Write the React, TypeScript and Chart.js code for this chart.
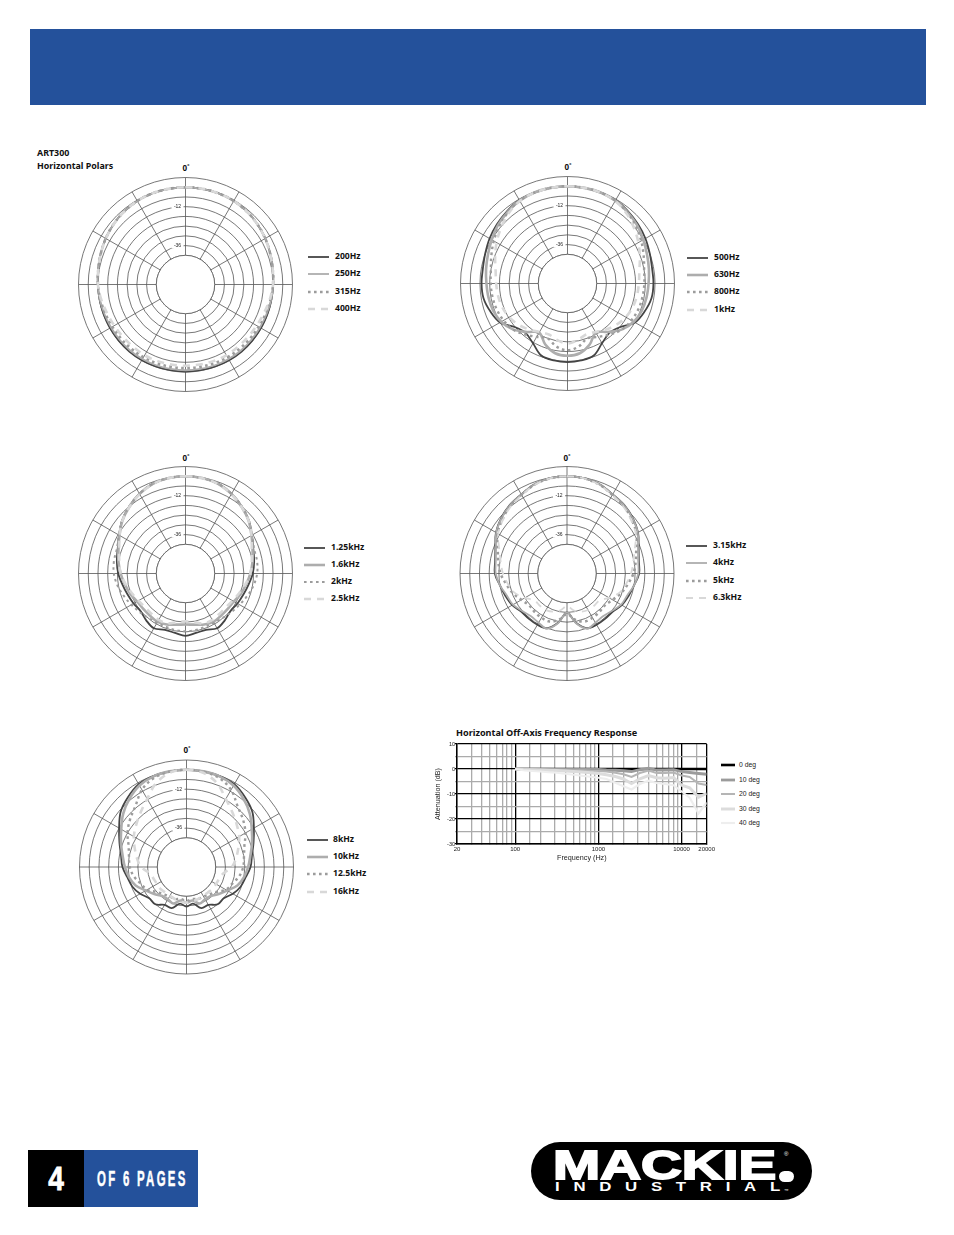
import React, { useEffect, useRef } from "react";
import { Chart, registerables } from "chart.js";

Chart.register(...registerables);

const angleLabels = ["0","10","20","30","40","50","60","70","80","90","100","110","120","130","140","150","160","170","180","190","200","210","220","230","240","250","260","270","280","290","300","310","320","330","340","350"];

// Polar 1
const hz200 = [0,-0.1,-0.2,-0.5,-1.2,-2.1,-3.2,-4.3,-5.3,-5.9,-6.2,-6.3,-6.3,-6.2,-6.1,-6.1,-6.2,-6.3,-6.3,-6.3,-6.2,-6.1,-6.1,-6.2,-6.3,-6.3,-6.2,-5.9,-5.3,-4.3,-3.2,-2.1,-1.2,-0.5,-0.2,-0.1];
const hz250 = [0,-0.1,-0.2,-0.5,-1.2,-2.1,-3.2,-4.3,-5.3,-5.9,-6.3,-6.8,-7,-7,-6.9,-6.9,-7,-7.1,-7.1,-7.1,-7,-6.9,-6.9,-7,-7,-6.8,-6.3,-5.9,-5.3,-4.3,-3.2,-2.1,-1.2,-0.5,-0.2,-0.1];
const hz315 = [0,-0.1,-0.2,-0.5,-1.2,-2.1,-3.2,-4.4,-5.4,-6,-6.7,-7.4,-7.9,-8.1,-8.2,-8.2,-8.3,-8.4,-8.4,-8.4,-8.3,-8.2,-8.2,-8.1,-7.9,-7.4,-6.7,-6,-5.4,-4.4,-3.2,-2.1,-1.2,-0.5,-0.2,-0.1];
const hz400 = [0,-0.1,-0.2,-0.5,-1.3,-2.2,-3.3,-4.4,-5.4,-6,-7.2,-8.5,-9.3,-9.7,-9.8,-9.6,-9.7,-9.9,-9.9,-9.9,-9.7,-9.6,-9.8,-9.7,-9.3,-8.5,-7.2,-6,-5.4,-4.4,-3.3,-2.2,-1.3,-0.5,-0.2,-0.1];

// Polar 2
const hz500 = [0,-0.1,-0.3,-0.6,-1.9,-3.2,-4.5,-6,-7,-7,-7.4,-9.4,-12,-18,-20,-17.4,-12.7,-11.8,-11.5,-11.8,-12.7,-17.4,-20,-18,-12,-9.4,-7.4,-7,-7,-6,-4.5,-3.2,-1.9,-0.6,-0.3,-0.1];
const hz630 = [0,-0.1,-0.3,-1,-2.5,-4,-6,-7.8,-9,-10,-10.5,-11.2,-12.8,-16,-21,-25,-20,-16.3,-15.4,-16.3,-20,-25,-21,-16,-12.8,-11.2,-10.5,-10,-9,-7.8,-6,-4,-2.5,-1,-0.3,-0.1];
const hz800 = [0,-0.1,-0.3,-1,-2.8,-5,-7.5,-10,-12,-12.6,-13,-13.5,-14.5,-16,-19,-22,-24,-20.5,-18.8,-20.5,-24,-22,-19,-16,-14.5,-13.5,-13,-12.6,-12,-10,-7.5,-5,-2.8,-1,-0.3,-0.1];
const khz1 = [0,-0.1,-0.4,-1.2,-3.5,-6.5,-9.5,-12.5,-15,-16,-16.5,-17.2,-18.5,-20.5,-23,-25.5,-26.5,-24.5,-23,-24.5,-26.5,-25.5,-23,-20.5,-18.5,-17.2,-16.5,-16,-15,-12.5,-9.5,-6.5,-3.5,-1.2,-0.4,-0.1];

// Polar 3
const khz125 = [0,-0.2,-1,-3.2,-6,-9,-12.7,-15.5,-17,-18.5,-20.5,-22,-23,-23.8,-22.3,-21,-23,-22.8,-21.5,-22.8,-23,-21,-22.3,-23.8,-23,-22,-20.5,-18.5,-17,-15.5,-12.7,-9,-6,-3.2,-1,-0.2];
const khz16 = [0,-0.2,-1.1,-3.3,-6.2,-9.2,-13,-16,-18,-20,-22,-23.6,-25.5,-26,-26,-25.5,-26.5,-28,-28.5,-28,-26.5,-25.5,-26,-26,-25.5,-23.6,-22,-20,-18,-16,-13,-9.2,-6.2,-3.3,-1.1,-0.2];
const khz2 = [0,-0.2,-1,-3.2,-6,-9,-12.5,-15,-15.2,-15.8,-17.4,-19.5,-21.5,-23,-24.3,-24.8,-25,-24.6,-24.4,-24.6,-25,-24.8,-24.3,-23,-21.5,-19.5,-17.4,-15.8,-15.2,-15,-12.5,-9,-6,-3.2,-1,-0.2];
const khz25 = [0,-0.3,-1.3,-3.5,-6.3,-9.2,-13,-16.5,-18.5,-20,-22.5,-24.7,-26.5,-27.5,-27.5,-27,-27.3,-29.5,-30.5,-29.5,-27.3,-27,-27.5,-27.5,-26.5,-24.7,-22.5,-20,-18.5,-16.5,-13,-9.2,-6.3,-3.5,-1.3,-0.3];

// Polar 4
const khz315 = [0,-0.3,-1.4,-3.7,-5,-7,-9.4,-13,-15,-15.5,-18,-19.6,-21,-23.3,-23.5,-23.5,-24,-29.3,-36,-29.3,-24,-23.5,-23.5,-23.3,-21,-19.6,-18,-15.5,-15,-13,-9.4,-7,-5,-3.7,-1.4,-0.3];
const khz4 = [0,-0.3,-1.5,-3.8,-5.2,-7.2,-9.6,-13.4,-15.4,-16,-18,-20.5,-21.5,-24,-25.5,-25,-23.8,-29,-36,-29,-23.8,-25,-25.5,-24,-21.5,-20.5,-18,-16,-15.4,-13.4,-9.6,-7.2,-5.2,-3.8,-1.5,-0.3];
const khz5 = [0,-0.4,-1.6,-4,-5.5,-8,-10.5,-14.5,-17,-19,-22,-24.5,-27.5,-29.5,-29,-28.5,-28.5,-31,-35,-31,-28.5,-28.5,-29,-29.5,-27.5,-24.5,-22,-19,-17,-14.5,-10.5,-8,-5.5,-4,-1.6,-0.4];
const khz63 = [0,-0.4,-1.8,-4.2,-6,-8.5,-11,-15.5,-18.5,-20.5,-23,-25.5,-30,-34,-34,-34,-35,-37,-40,-37,-35,-34,-34,-34,-30,-25.5,-23,-20.5,-18.5,-15.5,-11,-8.5,-6,-4.2,-1.8,-0.4];

// Polar 5
const khz8 = [0,-0.1,-0.3,-1,-3.8,-7,-12,-16,-19,-20.5,-23,-24.5,-27,-30,-30,-33,-33,-37,-35.6,-37,-33,-33,-30,-30,-27,-24.5,-23,-20.5,-19,-16,-12,-7,-3.8,-1,-0.3,-0.1];
const khz10 = [0,-0.1,-0.5,-2,-5.2,-9,-13.5,-17,-20,-22,-24,-26.6,-31,-34,-36.7,-37,-36,-39,-38,-39,-36,-37,-36.7,-34,-31,-26.6,-24,-22,-20,-17,-13.5,-9,-5.2,-2,-0.5,-0.1];
const khz125b = [0,-0.3,-1.5,-5,-11,-14.5,-18,-22,-24,-25,-27,-30,-32,-36,-38,-39,-39,-40,-39,-40,-39,-39,-38,-36,-32,-30,-27,-25,-24,-22,-18,-14.5,-11,-5,-1.5,-0.3];
const khz16b = [0,-1,-5,-11.5,-16,-19.5,-22.5,-26,-29,-32,-37,-38.5,-39,-39,-39.5,-39.5,-39,-38.5,-38,-38.5,-39,-39.5,-39.5,-39,-39,-38.5,-37,-32,-29,-26,-22.5,-19.5,-16,-11.5,-5,-1];

// Off-axis response
const frequencies = [100,125,160,200,250,315,400,500,630,800,1000,1250,1600,2000,2500,3150,4000,5000,6300,8000,10000,12500,16000,20000];
const deg0 = [0,0,0,0,0,0,0,0,0,0,0,0,0,0,0,0,0,0,0,0,0,0,0,0];
const deg10 = [0,-0.1,-0.1,-0.1,-0.1,-0.2,-0.2,-0.2,-0.2,-0.2,-0.2,-0.4,-0.5,-0.7,-1,-0.3,0.3,-0.4,-0.4,-0.3,-1,-1.4,-1.8,-2.1];
const deg20 = [0,-0.1,-0.2,-0.2,-0.3,-0.3,-0.4,-0.5,-0.5,-0.7,-0.8,-1,-1.5,-2.1,-3.2,-1.6,-0.6,-1.6,-1.6,-1.4,-2.6,-3.2,-5.8,-6.4];
const deg30 = [0,-0.2,-0.3,-0.4,-0.5,-0.6,-0.8,-1,-1.2,-1.5,-1.8,-2.3,-3,-4,-5.8,-3.9,-2.6,-3.5,-3.7,-3.4,-6.5,-7.5,-11.3,-9.7];
const deg40 = [0,-0.5,-0.8,-1,-1.3,-1.5,-1.9,-2.3,-2.7,-3.1,-3.5,-4,-5.5,-6.9,-8.2,-6,-4.7,-5.6,-6,-6.5,-9,-11.5,-17.8,-13.4];
const freqTickLabels = [20,100,1000,10000,20000];
const dbTickLabels = [10,0,-10,-20,-30];
const polarTickLabels = [-12,-36];

const DARK = "#444444", MID = "#adadad", DOT = "#9c9c9c", LIGHT = "#d8d8d8";
const DOTS = [2.6, 3.4], DASH = [7, 6];
const TEXT_FONT = '"Noto Sans", sans-serif';

const polars = [
  { cx: 185, cy: 284, nudgeX: 0.5, nudgeY: 0.5, zx: 186, zy: 168, lx: 308, tx: 335, ly: [257, 274, 292, 309], series: [
    { label: "200Hz", data: hz200, color: DARK, width: 1.8, dash: [] },
    { label: "250Hz", data: hz250, color: MID, width: 1.8, dash: [] },
    { label: "315Hz", data: hz315, color: DOT, width: 2.6, dash: DOTS },
    { label: "400Hz", data: hz400, color: LIGHT, width: 2.6, dash: DASH } ] },
  { cx: 567, cy: 283, nudgeX: 0.5, nudgeY: 0.5, zx: 568, zy: 167, lx: 687, tx: 714, ly: [258, 275, 292, 310], series: [
    { label: "500Hz", data: hz500, color: DARK, width: 1.8, dash: [] },
    { label: "630Hz", data: hz630, color: MID, width: 2.6, dash: [] },
    { label: "800Hz", data: hz800, color: DOT, width: 2.4, dash: DOTS },
    { label: "1kHz", data: khz1, color: LIGHT, width: 2.6, dash: DASH } ] },
  { cx: 185, cy: 573, nudgeX: 0.5, nudgeY: 0.5, zx: 186, zy: 458, lx: 304, tx: 331, ly: [548, 565, 582, 599], series: [
    { label: "1.25kHz", data: khz125, color: DARK, width: 1.8, dash: [] },
    { label: "1.6kHz", data: khz16, color: MID, width: 2.6, dash: [] },
    { label: "2kHz", data: khz2, color: DOT, width: 2, dash: DOTS },
    { label: "2.5kHz", data: khz25, color: LIGHT, width: 2.6, dash: DASH } ] },
  { cx: 567, cy: 573, nudgeX: 0, nudgeY: 0.5, zx: 567, zy: 458, lx: 686, tx: 713, ly: [546, 563, 581, 598], series: [
    { label: "3.15kHz", data: khz315, color: DARK, width: 1.8, dash: [] },
    { label: "4kHz", data: khz4, color: MID, width: 1.8, dash: [] },
    { label: "5kHz", data: khz5, color: DOT, width: 2.6, dash: DOTS },
    { label: "6.3kHz", data: khz63, color: LIGHT, width: 1.8, dash: DASH } ] },
  { cx: 186, cy: 867, nudgeX: 0.5, nudgeY: 0, zx: 187, zy: 750, lx: 307, tx: 333, ly: [840, 857, 874, 892], series: [
    { label: "8kHz", data: khz8, color: DARK, width: 1.8, dash: [] },
    { label: "10kHz", data: khz10, color: MID, width: 2.6, dash: [] },
    { label: "12.5kHz", data: khz125b, color: DOT, width: 2.4, dash: DOTS },
    { label: "16kHz", data: khz16b, color: LIGHT, width: 2.6, dash: DASH } ] },
];

const responseSeries = [
  { label: "0 deg", data: deg0, color: "#000000", width: 2.6, y: 765 },
  { label: "10 deg", data: deg10, color: "#9b9b9b", width: 2.8, y: 780 },
  { label: "20 deg", data: deg20, color: "#b5b5b5", width: 2, y: 794 },
  { label: "30 deg", data: deg30, color: "#dcdcdc", width: 3, y: 809 },
  { label: "40 deg", data: deg40, color: "#eeeeee", width: 2.2, y: 823 },
];

const RING = "#555555";
const RING_WIDTH = 0.8;
const holePlugin = {
  id: "hole",
  beforeDraw(chart: any, _a: any, opts: any) {
    chart.ctx.save();
    chart.ctx.translate(opts.nudgeX, opts.nudgeY);
  },
  afterDraw(chart: any) {
    chart.ctx.restore();
  },
  beforeDatasetsDraw(chart: any) {
    const s = chart.scales.r;
    const ctx = chart.ctx;
    ctx.save();
    ctx.beginPath();
    ctx.arc(s.xCenter, s.yCenter, s.getDistanceFromCenterForValue(-42), 0, Math.PI * 2);
    ctx.fillStyle = "#ffffff";
    ctx.fill();
    ctx.strokeStyle = RING;
    ctx.lineWidth = RING_WIDTH;
    ctx.stroke();
    ctx.font = '5px "Liberation Sans"';
    ctx.textAlign = "center";
    ctx.textBaseline = "middle";
    polarTickLabels.forEach((v) => {
      const y = s.yCenter - s.getDistanceFromCenterForValue(v);
      ctx.fillStyle = "#ffffff";
      ctx.fillRect(s.xCenter - 14, y - 3, 12, 6);
      ctx.fillStyle = "#222222";
      ctx.fillText(String(v), s.xCenter - 8, y);
    });
    ctx.restore();
  },
};

function Polar({ p }: { p: (typeof polars)[number] }) {
  const ref = useRef<HTMLCanvasElement>(null);
  useEffect(() => {
    const chart = new Chart(ref.current!, {
      type: "radar",
      data: {
        labels: angleLabels,
        datasets: p.series.map((s, i) => ({
          label: s.label,
          data: s.data,
          borderColor: s.color,
          borderWidth: s.width,
          borderDash: s.dash,
          fill: false,
          pointRadius: 0,
          tension: 0.35,
          order: p.series.length - i,
        })),
      },
      options: {
        responsive: false,
        animation: false,
        layout: { padding: 2 },
        plugins: { legend: { display: false }, tooltip: { enabled: false }, hole: { nudgeX: p.nudgeX, nudgeY: p.nudgeY } },
        scales: {
          r: {
            min: -60,
            max: 6,
            ticks: { stepSize: 6, display: false },
            pointLabels: { display: false },
            grid: {
              circular: true,
              lineWidth: RING_WIDTH,
              color: (c: any) => (c.tick.value < -42 ? "rgba(0,0,0,0)" : RING),
            },
            angleLines: {
              lineWidth: RING_WIDTH,
              color: (c: any) => (c.index % 3 === 0 ? RING : "rgba(0,0,0,0)"),
            },
          },
        },
      },
      plugins: [holePlugin],
    } as any);
    return () => chart.destroy();
  }, []);
  return (
    <canvas
      ref={ref}
      width={218}
      height={218}
      style={{ position: "absolute", left: p.cx - 109, top: p.cy - 109, width: 218, height: 218 }}
    />
  );
}

function Response() {
  const ref = useRef<HTMLCanvasElement>(null);
  useEffect(() => {
    const tickFont = { family: '"Liberation Sans"', size: 6 };
    const titleFont = { family: '"Liberation Sans"', size: 7.2 };
    const chart = new Chart(ref.current!, {
      type: "line",
      data: {
        datasets: responseSeries.map((s, i) => ({
          label: s.label,
          data: s.data.map((y, k) => ({ x: frequencies[k], y })),
          borderColor: s.color,
          borderWidth: s.width,
          pointRadius: 0,
          tension: 0,
          order: responseSeries.length - i,
        })),
      },
      options: {
        responsive: false,
        animation: false,
        layout: { padding: { top: 6, right: 8, left: 0, bottom: 0 } },
        plugins: { legend: { display: false }, tooltip: { enabled: false } },
        scales: {
          x: {
            type: "logarithmic",
            min: 20,
            max: 20000,
            afterFit: (s: any) => { s.height = 22; },
            border: { color: "#000000", width: 1.4 },
            grid: {
              lineWidth: 1.3,
              tickLength: 0,
              color: (c: any) => ([20, 100, 1000, 10000, 20000].includes(c.tick.value) ? "#000000" : "#ababab"),
            },
            ticks: {
              autoSkip: false,
              maxRotation: 0,
              padding: 2,
              font: tickFont,
              color: "#222222",
              callback: (v: any) => (freqTickLabels.includes(Number(v)) ? String(v) : ""),
            },
            title: { display: true, text: "Frequency (Hz)", font: titleFont, color: "#222222", padding: { top: 1, bottom: 3.5 } },
          },
          y: {
            min: -30,
            max: 10,
            afterFit: (s: any) => { s.width = 27; },
            border: { color: "#000000", width: 1.4 },
            grid: {
              lineWidth: 1.3,
              tickLength: 2,
              color: (c: any) => (c.tick.value % 10 === 0 ? "#000000" : "#ababab"),
            },
            ticks: {
              stepSize: 5,
              autoSkip: false,
              padding: 0,
              font: { family: '"Liberation Sans"', size: 5.5 },
              color: "#222222",
              callback: (v: any) => (dbTickLabels.includes(Number(v)) ? String(v) : ""),
            },
            title: { display: true, text: "Attenuation (dB)", font: titleFont, color: "#222222", padding: { top: 4, bottom: 1 } },
          },
        },
      },
    } as any);
    return () => chart.destroy();
  }, []);
  return (
    <canvas
      ref={ref}
      width={287}
      height={128}
      style={{ position: "absolute", left: 430, top: 738, width: 287, height: 128 }}
    />
  );
}

const abs = (left: number, top: number, extra: React.CSSProperties = {}): React.CSSProperties => ({
  position: "absolute",
  left,
  top,
  whiteSpace: "nowrap",
  ...extra,
});

function Label({ x, y, text, size = 8.6, center = false }: { x: number; y: number; text: string; size?: number; center?: boolean }) {
  return (
    <div
      style={abs(x, y, {
        font: `700 ${size}px ${TEXT_FONT}`,
        lineHeight: "12px",
        height: 12,
        marginTop: -6,
        color: "#111",
        transform: center ? "translateX(-50%)" : undefined,
      })}
    >
      {text}
    </div>
  );
}

function LegendLine({ x, y, w, color, width, dash }: { x: number; y: number; w: number; color: string; width: number; dash: number[] }) {
  return (
    <svg style={abs(x, y - 4, {})} width={w} height={8}>
      <line x1={0} x2={w} y1={4} y2={4} stroke={color} strokeWidth={width} strokeDasharray={dash.join(" ")} />
    </svg>
  );
}

export default function App() {
  return (
    <div style={{ position: "absolute", left: 0, top: 0, width: 954, height: 1235, background: "#fff", overflow: "hidden" }}>
      <div style={abs(30, 29, { width: 896, height: 76, background: "#24519b" })} />

      <Label x={37} y={153} text="ART300" size={8.9} />
      <Label x={37} y={166} text="Horizontal Polars" size={8.9} />

      {polars.map((p) => (
        <React.Fragment key={p.zy + "-" + p.cx}>
          <Polar p={p} />
          <Label x={p.zx} y={p.zy} text="0˚" size={8} center />
          {p.series.map((s, i) => (
            <React.Fragment key={s.label}>
              <LegendLine x={p.lx} y={p.ly[i]} w={21} color={s.color} width={s.width} dash={s.dash} />
              <Label x={p.tx} y={p.ly[i] - 1} text={s.label} />
            </React.Fragment>
          ))}
        </React.Fragment>
      ))}

      <Label x={456} y={733} text="Horizontal Off-Axis Frequency Response" size={9.1} />
      <Response />
      {responseSeries.map((s) => (
        <React.Fragment key={s.label}>
          <LegendLine x={721} y={s.y} w={14} color={s.color} width={s.width} dash={[]} />
          <div style={abs(739, s.y - 5, { font: '6.8px "Liberation Sans"', lineHeight: "10px", color: "#222" })}>{s.label}</div>
        </React.Fragment>
      ))}

      <div style={abs(28, 1150, { width: 56, height: 57, background: "#000" })} />
      <div style={abs(84, 1150, { width: 114, height: 57, background: "#24519b" })} />
      <div style={abs(28, 1150, { width: 56, height: 57, textAlign: "center", color: "#fff", font: '700 33px/57px "Liberation Sans Narrow", "Liberation Sans"', transform: "scaleX(0.85)", WebkitTextStroke: "0.8px #fff" })}>4</div>
      <div style={abs(97, 1150, { color: "#fff", font: '700 22px/57px "Liberation Sans Narrow", "Liberation Sans"', letterSpacing: "4.4px", transform: "scaleX(0.52)", transformOrigin: "left center", WebkitTextStroke: "0.5px #fff" })}>OF 6 PAGES</div>

      <div style={abs(531, 1142, { width: 281, height: 58, borderRadius: 29, background: "#000" })} />
      <div style={abs(553, 1165, { color: "#fff", font: '900 41px/1 "Liberation Sans"', marginTop: -20, transform: "scaleX(1.38)", transformOrigin: "left center", WebkitTextStroke: "1.8px #fff" })}>MACKIE</div>
      <div style={abs(779, 1171, { width: 15, height: 11, borderRadius: 6, background: "#fff" })} />
      <div style={abs(555, 1187, { color: "#fff", font: '700 12px/1 "Liberation Sans"', marginTop: -6, letterSpacing: "9.8px", transform: "scaleX(1.4)", transformOrigin: "left center" })}>INDUSTRIAL</div>
      <div style={abs(784, 1151, { color: "#fff", font: '6px/1 "Liberation Sans"' })}>®</div>
      <div style={abs(784, 1189, { color: "#fff", font: '4.5px/1 "Liberation Sans"' })}>™</div>
    </div>
  );
}
